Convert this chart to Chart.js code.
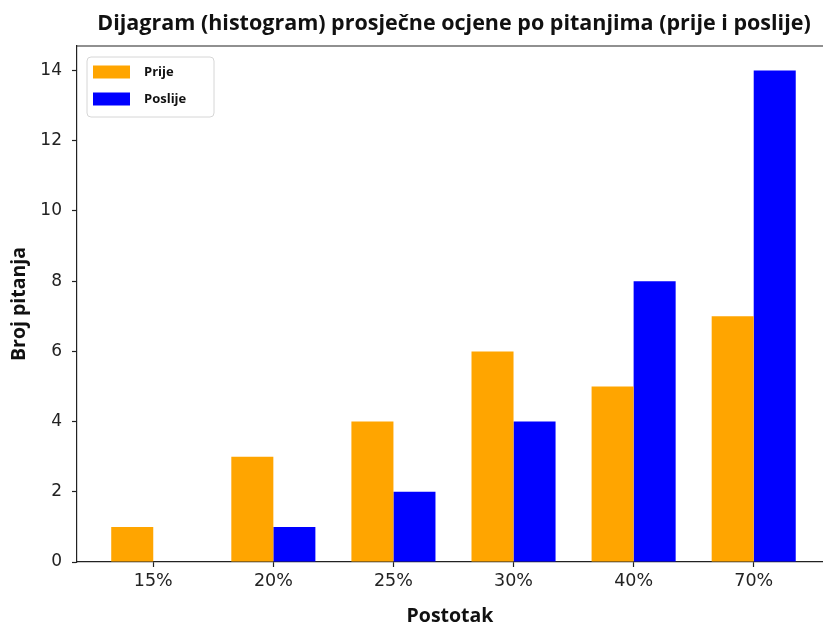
<!DOCTYPE html>
<html>
<head>
<meta charset="utf-8">
<script src="https://cdn.jsdelivr.net/npm/chart.js@4"></script>
<style>
  html, body { margin: 0; padding: 0; background: #fff; overflow: hidden; }
  #wrap { width: 823px; height: 626px; }
</style>
</head>
<body>
<div id="wrap"><canvas id="histChart"></canvas></div>
<script>
var categories = ["15%", "20%", "25%", "30%", "40%", "70%"];
var prije = [1, 3, 4, 6, 5, 7];
var poslije = [0, 1, 2, 4, 8, 14];
var yTicks = [0, 2, 4, 6, 8, 10, 12, 14];

var titleText = "Dijagram (histogram) prosječne ocjene po pitanjima (prije i poslije)";
var boldFont = "'Open Sans', sans-serif";
var tickFont = "'DejaVu Sans', sans-serif";

function toPoints(arr) {
    return arr.map(function (v, i) { return { x: i, y: v }; });
}

// frame top line, title and in-plot legend, like matplotlib
var extras = {
    id: "extras",
    afterDraw: function (chart) {
        var ctx = chart.ctx;
        var a = chart.chartArea;
        ctx.save();
        ctx.strokeStyle = "#222";
        ctx.lineWidth = 1.2;
        ctx.beginPath();
        ctx.moveTo(a.left, a.top);
        ctx.lineTo(a.right, a.top);
        ctx.stroke();

        ctx.fillStyle = "#111";
        ctx.font = "bold 21.5px " + boldFont;
        ctx.textAlign = "center";
        ctx.textBaseline = "alphabetic";
        ctx.fillText(titleText, 454, 30);

        // legend box
        var bx = a.left + 10, by = a.top + 11, bw = 127, bh = 60;
        ctx.beginPath();
        ctx.roundRect(bx, by, bw, bh, 4);
        ctx.fillStyle = "rgba(255,255,255,0.8)";
        ctx.fill();
        ctx.strokeStyle = "#d6d6d6";
        ctx.lineWidth = 1;
        ctx.stroke();

        ctx.textAlign = "left";
        ctx.textBaseline = "middle";
        ctx.font = "bold 13px " + boldFont;
        chart.data.datasets.forEach(function (ds, i) {
            var cy = by + 15 + i * 27;
            ctx.fillStyle = ds.backgroundColor;
            ctx.fillRect(bx + 6, cy - 6.5, 37, 13);
            ctx.fillStyle = "#111";
            ctx.fillText(ds.label, bx + 57, cy);
        });
        ctx.restore();
    }
};

var config = {
    type: "bar",
    data: {
        datasets: [
            { label: "Prije", data: toPoints(prije), backgroundColor: "#FFA500" },
            { label: "Poslije", data: toPoints(poslije), backgroundColor: "#0000FF" }
        ]
    },
    options: {
        responsive: true,
        maintainAspectRatio: false,
        animation: false,
        layout: { padding: { top: 46, left: 0, right: 0, bottom: 0 } },
        datasets: { bar: { categoryPercentage: 0.7, barPercentage: 1.0, borderWidth: 0 } },
        plugins: {
            legend: { display: false },
            tooltip: { enabled: false }
        },
        scales: {
            x: {
                type: "linear",
                offset: false,
                min: -0.635,
                max: 5.577,
                afterBuildTicks: function (scale) {
                    scale.ticks = categories.map(function (c, i) { return { value: i }; });
                },
                afterFit: function (scale) { scale.height = 64; },
                ticks: {
                    callback: function (v) { return categories[v]; },
                    font: { family: tickFont, size: 17.5 },
                    color: "#222",
                    padding: 4,
                    maxRotation: 0
                },
                grid: { offset: false, drawOnChartArea: false, tickLength: 5, tickColor: "#222", tickWidth: 1.2 },
                border: { color: "#222", width: 1.2 },
                title: {
                    display: true,
                    text: "Postotak",
                    font: { family: boldFont, size: 19.5, weight: "bold", lineHeight: 1 },
                    color: "#111",
                    padding: { top: 0, bottom: 0 }
                }
            },
            y: {
                min: 0,
                max: 14.7,
                afterBuildTicks: function (scale) {
                    scale.ticks = yTicks.map(function (v) { return { value: v }; });
                },
                afterFit: function (scale) { scale.width = 77; },
                ticks: {
                    font: { family: tickFont, size: 17 },
                    color: "#222",
                    padding: 10
                },
                grid: { drawOnChartArea: false, tickLength: 5, tickColor: "#222", tickWidth: 1.2 },
                border: { color: "#222", width: 1.2 },
                title: {
                    display: true,
                    text: "Broj pitanja",
                    font: { family: boldFont, size: 19.5, weight: "bold", lineHeight: 1.2 },
                    color: "#111",
                    padding: { top: 8, bottom: 0 }
                }
            }
        }
    },
    plugins: [extras]
};

var histChart = new Chart(document.getElementById("histChart"), config);
</script>
</body>
</html>
